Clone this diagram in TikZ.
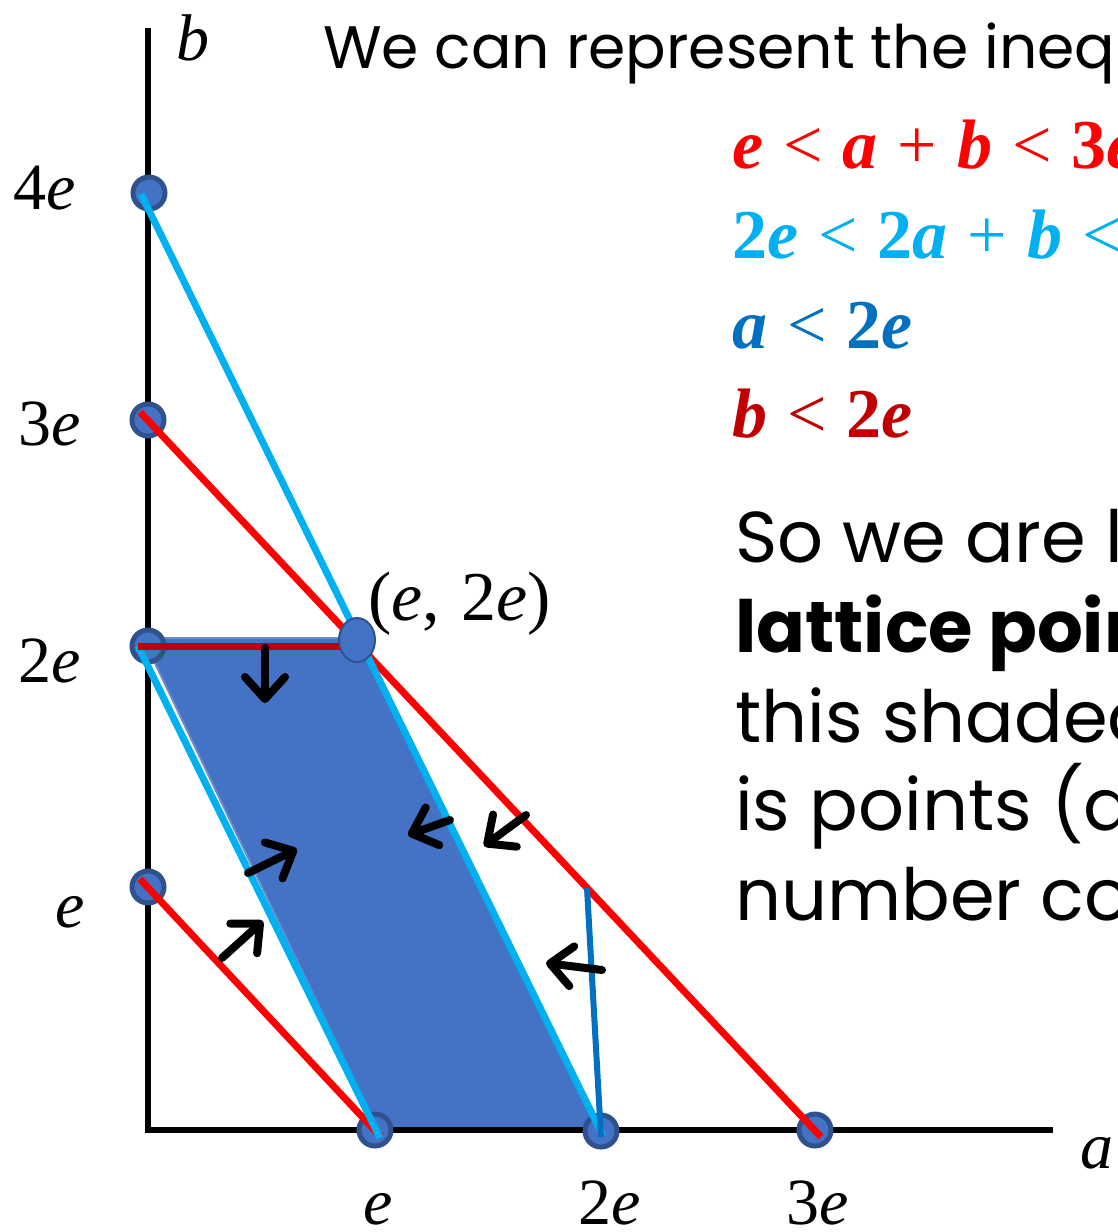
\documentclass[tikz,border=0pt]{standalone}
\usepackage{fontspec}
\usetikzlibrary{arrows.meta,shapes.geometric}
\newfontfamily\tnr{Liberation Serif}
\newfontfamily\comic{Poppins}
\definecolor{dotfill}{HTML}{4472C4}
\definecolor{dotedge}{HTML}{2F528F}
\definecolor{cyanl}{HTML}{00B0F0}
\definecolor{redl}{HTML}{FF0000}
\definecolor{dred}{HTML}{C00000}
\definecolor{blul}{HTML}{0070C0}
\definecolor{rimblue}{HTML}{6A8AC8}
\newcommand\gp{\hspace{20pt}}
\newcommand\bi[1]{\textbf{\textit{#1}}}
\begin{document}
\begin{tikzpicture}[x=1pt,y=-1pt,
  dot/.style={circle,fill=dotfill,draw=dotedge,line width=5pt,minimum size=32pt,inner sep=0pt},
  bigdot/.style={ellipse,fill=dotfill,draw=dotedge,line width=2pt,minimum width=36pt,minimum height=44pt,inner sep=0pt},
  axisline/.style={line width=6pt,black},
  ln/.style={line width=7pt},
  arr/.style={line width=8pt,line cap=round,-{Straight Barb[length=22pt,width=40pt,line cap=round,line join=round]}},
  ticklab/.style={font=\tnr\fontsize{66}{66}\selectfont,anchor=base,inner sep=0pt},
  title/.style={font=\comic\fontsize{60}{60}\selectfont,anchor=base west,inner sep=0pt},
  body/.style={font=\comic\fontsize{72}{72}\selectfont,anchor=base west,inner sep=0pt},
  ineq/.style={font=\tnr\fontsize{70}{70}\selectfont,anchor=base west,inner sep=0pt}]
\useasboundingbox (0,0) rectangle (1117,1232);
\clip (0,0) rectangle (1117,1232);
% shaded region
\fill[dotfill,draw=rimblue,line width=2pt] (143,638) -- (357,638) -- (601,1128) -- (377,1128) -- cycle;
% axes
\coordinate (O) at (148,1130);
\coordinate (btop) at (148,28);
\coordinate (aend) at (1053,1130);
\draw[axisline] (btop) -- (O) -- (aend);
% lattice dots
\node[dot] (b4) at (149,193) {};
\node[dot] (b3) at (148,420) {};
\node[dot] (b2) at (148,646) {};
\node[dot] (b1) at (148,887) {};
\node[dot] (a1) at (375,1130) {};
\node[dot] (a2) at (601,1131) {};
\node[dot] (a3) at (815,1130) {};
% boundary lines
\coordinate (c4) at (141,194);
\coordinate (c2e) at (603,1136);
\coordinate (c2) at (138,646);
\coordinate (c1e) at (380,1138);
\coordinate (r3) at (140,412);
\coordinate (r3e) at (821,1137);
\coordinate (r1) at (140,879);
\coordinate (r1e) at (381,1137);
\coordinate (atop) at (587,888);
\coordinate (abot) at (601,1137);
\coordinate (bm) at (345,646);
\draw[ln,redl] (r3) -- (r3e);
\draw[ln,redl] (r1) -- (r1e);
\draw[ln,cyanl] (c4) -- (c2e);
\draw[ln,cyanl] (c2) -- (c1e);
\draw[line width=6pt,blul] (atop) -- (abot);
\draw[ln,dred] (c2) -- (bm);
\node[bigdot] (E2) at (357,640) {};
% arrows
\coordinate (t1) at (265,648); \coordinate (h1) at (265,703);
\coordinate (t2) at (450,820); \coordinate (h2) at (408,835);
\coordinate (t3) at (526,815); \coordinate (h3) at (484,846);
\coordinate (t4) at (248,873); \coordinate (h4) at (297,849);
\coordinate (t5) at (222,958); \coordinate (h5) at (263,921);
\coordinate (t6) at (602,970); \coordinate (h6) at (546,963);
\foreach \i in {1,...,6} \draw[arr] (t\i) -- (h\i);
% axis labels
\node[font=\tnr\itshape\fontsize{66}{66}\selectfont,anchor=base west,inner sep=0pt] (blab) at (176,60) {b};
\node[font=\tnr\itshape\fontsize{66}{66}\selectfont,anchor=base west,inner sep=0pt] (alab) at (1080,1168) {a};
\node[ticklab] (l4) at (45,209) {4\textit{e}};
\node[ticklab] (l3) at (50,445) {3\textit{e}};
\node[ticklab] (l2) at (50,682) {2\textit{e}};
\node[ticklab] (l1) at (70,927) {\textit{e}};
\node[ticklab] (m1) at (378,1224) {\textit{e}};
\node[ticklab] (m2) at (610,1224) {2\textit{e}};
\node[ticklab] (m3) at (818,1224) {3\textit{e}};
\node[font=\tnr\fontsize{70}{70}\selectfont,anchor=base west,inner sep=0pt] (pt) at (368,620) {(\textit{e},\hspace{4pt} 2\textit{e})};
% text
\node[title] (ttl) at (323,68) {We can represent the inequalities graphically};
\node[ineq,text=redl] (q1) at (732,168) {\bi{e}\gp<\gp\bi{a}\gp+\gp\bi{b}\gp<\gp\textbf{3\textit{e}}};
\node[ineq,text=cyanl] (q2) at (732,258) {\textbf{2\textit{e}}\gp<\gp\textbf{2\textit{a}}\gp+\gp\bi{b}\gp<\gp\textbf{4\textit{e}}};
\node[ineq,text=blul] (q3) at (732,348) {\bi{a}\gp<\gp\textbf{2\textit{e}}};
\node[ineq,text=dred] (q4) at (732,437) {\bi{b}\gp<\gp\textbf{2\textit{e}}};
\node[body] (s1) at (735,562) {So we are looking for};
\node[body,font=\comic\bfseries\fontsize{72}{72}\selectfont] (s2) at (735,652) {lattice points in};
\node[body] (s3) at (735,742) {this shaded region, that};
\node[body] (s4) at (735,830) {is points (a, b) with whole};
\node[body] (s5) at (735,920) {number coordinates.};
\end{tikzpicture}
\end{document}
